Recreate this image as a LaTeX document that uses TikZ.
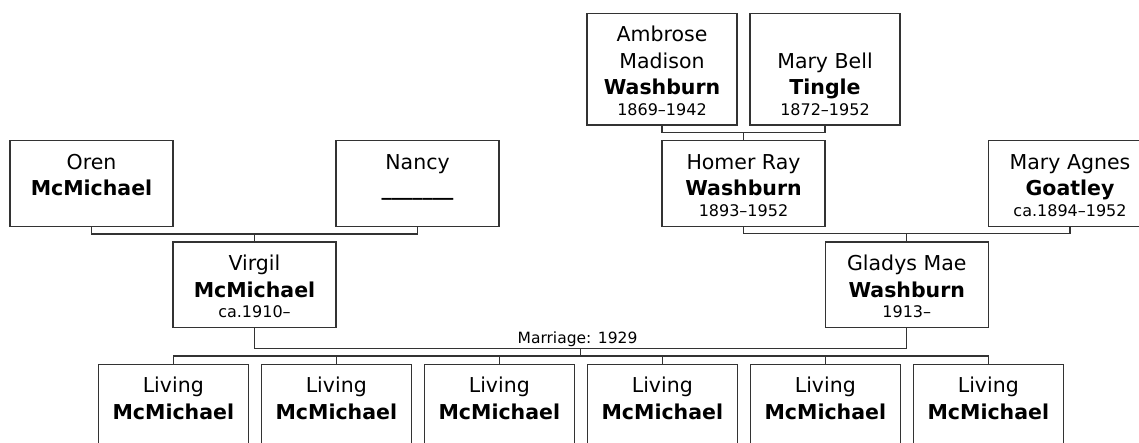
\documentclass[tikz,border=0pt]{standalone}
\usepackage{fontspec}
\setmainfont{DejaVu Sans}
\newcommand\Ln[1]{\rule[-6pt]{0pt}{26.5pt}#1}
\newcommand\Dt[1]{{\fontsize{16pt}{16pt}\selectfont\rule[-4pt]{0pt}{18.5pt}#1}}
\newcommand\pbx[3]{\parbox[c][#2][t]{#1}{\centering\fontsize{20.5pt}{0pt}\selectfont\baselineskip=0pt\lineskip=0pt\lineskiplimit=0pt\vspace*{8pt}#3}}
\tikzset{
  person/.style={draw=black!80, line width=1.2pt, fill=white, inner sep=0pt, outer sep=0pt},
  conn/.style={draw=black!80, line width=1.2pt},
  mlabel/.style={inner sep=0pt, anchor=base, font=\fontsize{15.5pt}{16pt}\selectfont}
}
\begin{document}
\begin{tikzpicture}[x=1pt, y=-1pt]
\useasboundingbox (0,0) rectangle (1139,443);
\clip (0,0) rectangle (1139,443);
% generation 1
\node[person] (ambrose) at (662,69.2) {\pbx{150pt}{111.7pt}{\Ln{Ambrose}\\\Ln{Madison}\\\Ln{\textbf{Washburn}}\\\Dt{1869--1942}}};
\node[person] (tingle) at (825,69.2) {\pbx{150pt}{111.7pt}{\Ln{}\\\Ln{Mary Bell}\\\Ln{\textbf{Tingle}}\\\Dt{1872--1952}}};
% generation 2
\node[person] (oren) at (91.5,183.6) {\pbx{163pt}{85.8pt}{\Ln{Oren}\\\Ln{\textbf{McMichael}}}};
\node[person] (nancy) at (417.5,183.6) {\pbx{163pt}{85.8pt}{\Ln{Nancy}\\\Ln{\textbf{\_\_\_\_\_\_\_}}}};
\node[person] (homer) at (743.5,183.6) {\pbx{163pt}{85.8pt}{\Ln{Homer Ray}\\\Ln{\textbf{Washburn}}\\\Dt{1893--1952}}};
\node[person] (agnes) at (1070,183.6) {\pbx{163pt}{85.8pt}{\Ln{Mary Agnes}\\\Ln{\textbf{Goatley}}\\\Dt{ca.1894--1952}}};
% generation 3
\node[person] (virgil) at (254.5,284.7) {\pbx{163pt}{85.3pt}{\Ln{Virgil}\\\Ln{\textbf{McMichael}}\\\Dt{ca.1910--}}};
\node[person] (gladys) at (906.75,284.7) {\pbx{163pt}{85.3pt}{\Ln{Gladys Mae}\\\Ln{\textbf{Washburn}}\\\Dt{1913--}}};
% children
\foreach \i/\x in {1/173.3,2/336.3,3/499.3,4/662.3,5/825.3,6/988.3}{
  \node[person] (c\i) at (\x,407.05) {\pbx{150pt}{85.5pt}{\Ln{Living}\\\Ln{\textbf{McMichael}}}};
}
% junctions
\coordinate (j1) at (743.5,132.3);
\coordinate (j2) at (254.5,234);
\coordinate (j3) at (906.75,233.5);
\coordinate (m) at (580.6,348.3);
\coordinate (cb) at (580.6,356);
\draw[conn] (ambrose.south) |- (j1) -| (tingle.south);
\draw[conn] (j1) -- (homer.north);
\draw[conn] (oren.south) |- (j2) -| (nancy.south);
\draw[conn] (j2) -- (virgil.north);
\draw[conn] (homer.south) |- (j3) -| (agnes.south);
\draw[conn] (j3) -- (gladys.north);
\draw[conn] (virgil.south) |- (m) -| (gladys.south);
\node[mlabel] (mtext) at (577.5,343) {Marriage: 1929};
\draw[conn] (m) -- (cb);
\foreach \i in {1,...,6}{
  \draw[conn] (cb) -| (c\i.north);
}
\end{tikzpicture}
\end{document}
